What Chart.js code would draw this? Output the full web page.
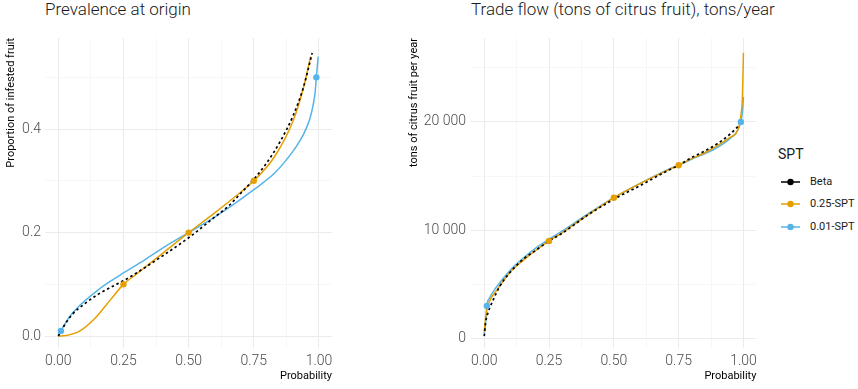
<!DOCTYPE html>
<html><head><meta charset="utf-8">
<script src="https://cdn.jsdelivr.net/npm/chart.js@4/dist/chart.umd.min.js"></script>
<style>
html,body{margin:0;padding:0;background:#fff;}
body{width:858px;height:389px;position:relative;overflow:hidden;font-family:Roboto,sans-serif;}
.title{position:absolute;top:1px;font-size:17px;line-height:17px;font-weight:300;color:#1a1a1a;white-space:nowrap;}
canvas{position:absolute;top:0;}
.lg-title{position:absolute;left:778px;top:147px;font-size:14px;line-height:14px;color:#1a1a1a;font-weight:400;}
.lg-row{position:absolute;left:780px;height:14px;width:80px;}
.lg-row svg{position:absolute;left:0;top:0;}
.lg-row span{position:absolute;left:30px;top:0;font-family:Roboto,sans-serif;font-size:11px;line-height:14px;color:#1a1a1a;white-space:nowrap;}
</style></head><body>
<div class="title" style="left:45px">Prevalence at origin</div>
<div class="title" style="left:471px">Trade flow (tons of citrus fruit), tons/year</div>
<canvas id="c1" width="340" height="389" style="left:0"></canvas>
<canvas id="c2" width="362" height="389" style="left:400px"></canvas>
<div class="lg-title">SPT</div>
<div id="legend"></div>
<script>
// ---------- DATA ----------
const seriesNames = ["Beta", "0.25-SPT", "0.01-SPT"];
const seriesColors = ["#000000", "#E69F00", "#56B4E9"];

// Left panel: Prevalence at origin
const betaProbL = [0, 0.02, 0.05, 0.1, 0.15, 0.2, 0.25, 0.3, 0.4, 0.5, 0.6, 0.65, 0.7, 0.75, 0.8, 0.85, 0.9, 0.94, 0.974];
const betaValL  = [0, 0.018, 0.04, 0.062, 0.08, 0.094, 0.107, 0.122, 0.155, 0.19, 0.23, 0.25, 0.276, 0.303, 0.335, 0.375, 0.425, 0.48, 0.547];
const spt25ProbL = [0, 0.03, 0.08, 0.14, 0.2, 0.25, 0.3, 0.4, 0.5, 0.6, 0.66, 0.75, 0.83, 0.9, 0.94, 0.968];
const spt25ValL  = [0, 0.001, 0.009, 0.034, 0.07, 0.1, 0.12, 0.16, 0.2, 0.238, 0.262, 0.3, 0.347, 0.415, 0.479, 0.54];
const spt01ProbL = [0, 0.01, 0.04, 0.08, 0.15, 0.2, 0.25, 0.33, 0.4, 0.5, 0.6, 0.66, 0.75, 0.83, 0.9, 0.93, 0.95, 0.965, 0.975, 0.985, 0.99, 0.997];
const spt01ValL  = [0.002, 0.01, 0.035, 0.058, 0.088, 0.106, 0.122, 0.147, 0.17, 0.2, 0.23, 0.25, 0.283, 0.315, 0.357, 0.38, 0.4, 0.42, 0.44, 0.47, 0.5, 0.54];
const spt25PtsProbL = [0.25, 0.5, 0.75];
const spt25PtsValL  = [0.1, 0.2, 0.3];
const spt01PtsProbL = [0.01, 0.99];
const spt01PtsValL  = [0.01, 0.5];

// Right panel: Trade flow
const betaProbR = [0, 0.005, 0.015, 0.03, 0.06, 0.1, 0.15, 0.2, 0.25, 0.3, 0.4, 0.5, 0.6, 0.7, 0.75, 0.8, 0.85, 0.9, 0.95, 0.984];
const betaValR  = [200, 1400, 2400, 3300, 4800, 6100, 7300, 8150, 9000, 9700, 11400, 12850, 14100, 15400, 16000, 16700, 17300, 18000, 18900, 19700];
const spt25ProbR = [0, 0.005, 0.01, 0.02, 0.05, 0.1, 0.15, 0.2, 0.25, 0.3, 0.4, 0.5, 0.6, 0.7, 0.75, 0.8, 0.85, 0.9, 0.95, 0.97, 0.984, 0.99, 0.996, 1.0];
const spt25ValR  = [600, 1800, 2600, 3400, 4500, 6100, 7200, 8150, 9000, 9750, 11400, 13000, 14300, 15450, 16000, 16600, 17150, 17800, 18600, 18900, 19700, 20600, 22300, 26400];
const spt01ProbR = [0, 0.004, 0.01, 0.02, 0.046, 0.1, 0.15, 0.2, 0.25, 0.3, 0.4, 0.5, 0.6, 0.7, 0.75, 0.8, 0.85, 0.9, 0.95, 0.98, 0.99, 0.996, 1.0];
const spt01ValR  = [400, 1000, 3000, 3700, 4700, 6300, 7400, 8350, 9150, 9900, 11500, 13000, 14300, 15500, 16000, 16550, 17050, 17650, 18500, 19300, 20000, 20900, 22300];
const spt25PtsProbR = [0.25, 0.5, 0.75];
const spt25PtsValR  = [9000, 13000, 16000];
const spt01PtsProbR = [0.01, 0.99];
const spt01PtsValR  = [3000, 20000];

// Ticks (empty label = minor gridline)
const xTickValues = [0, 0.125, 0.25, 0.375, 0.5, 0.625, 0.75, 0.875, 1];
const xTickLabels = ["0.00", "", "0.25", "", "0.50", "", "0.75", "", "1.00"];
const yTickValuesL = [0, 0.1, 0.2, 0.3, 0.4, 0.5];
const yTickLabelsL = ["0.0", "", "0.2", "", "0.4", ""];
const yTickValuesR = [0, 5000, 10000, 15000, 20000, 25000];
const yTickLabelsR = ["0", "", "10 000", "", "20 000", ""];

// ---------- BUILD ----------
const zip = (xs, ys) => xs.map((x, i) => ({x: x, y: ys[i]}));

function lineDs(xs, ys, idx, dashed) {
  return {
    type: 'line', data: zip(xs, ys), borderColor: seriesColors[idx], backgroundColor: seriesColors[idx],
    borderWidth: dashed ? 1.7 : 1.5, borderDash: dashed ? [2.5, 2.8] : [], pointRadius: 0,
    cubicInterpolationMode: 'monotone', fill: false, order: dashed ? 1 : 2, label: seriesNames[idx]
  };
}
function ptDs(xs, ys, idx) {
  return {
    type: 'scatter', data: zip(xs, ys), borderColor: seriesColors[idx], backgroundColor: seriesColors[idx],
    pointRadius: 3.2, pointBorderWidth: 0, showLine: false, order: 0
  };
}

function makeScale(vals, labels, min, max, isX, sizeFit, yTitle, titlePad) {
  return {
    type: 'linear', min: min, max: max, border: {display: false},
    afterBuildTicks: s => { s.ticks = vals.map(v => ({value: v})); },
    afterFit: s => { if (isX) s.height = sizeFit; else s.width = sizeFit; },
    grid: {
      drawTicks: false,
      color: c => (labels[c.index] === '' ? '#f3f3f3' : '#ebebeb'),
      lineWidth: c => (labels[c.index] === '' ? 0.7 : 1)
    },
    ticks: {
      autoSkip: false, maxRotation: 0, padding: isX ? 5 : (titlePad > 6 ? 5 : 4),
      color: '#4d4d4d', font: {family: 'Roboto', size: 14, weight: 300},
      callback: (v, i) => labels[i]
    },
    title: {
      display: true, text: isX ? 'Probability' : yTitle, align: 'end', color: '#000',
      font: {family: 'Roboto, sans-serif', size: 11},
      padding: isX ? {top: 0, bottom: 6} : {top: titlePad, bottom: 0}
    }
  };
}

function makeChart(id, datasets, yVals, yLabels, yMin, yMax, yWidth, yTitle, titlePad, padRight) {
  return new Chart(document.getElementById(id), {
    type: 'line',
    data: {datasets: datasets},
    options: {
      responsive: false, animation: false, devicePixelRatio: 1,
      layout: {padding: {top: 38, right: padRight, left: 0, bottom: 0}},
      plugins: {legend: {display: false}, tooltip: {enabled: false}},
      scales: {
        x: makeScale(xTickValues, xTickLabels, -0.051, 1.05, true, 41),
        y: makeScale(yVals, yLabels, yMin, yMax, false, yWidth, yTitle, titlePad)
      }
    }
  });
}

makeChart('c1', [
  lineDs(betaProbL, betaValL, 0, true),
  lineDs(spt25ProbL, spt25ValL, 1, false),
  lineDs(spt01ProbL, spt01ValL, 2, false),
  ptDs(spt25PtsProbL, spt25PtsValL, 1),
  ptDs(spt01PtsProbL, spt01PtsValL, 2)
], yTickValuesL, yTickLabelsL, -0.023, 0.576, 45, 'Proportion of infested fruit', 5, 8);

makeChart('c2', [
  lineDs(betaProbR, betaValR, 0, true),
  lineDs(spt25ProbR, spt25ValR, 1, false),
  lineDs(spt01ProbR, spt01ValR, 2, false),
  ptDs(spt25PtsProbR, spt25PtsValR, 1),
  ptDs(spt01PtsProbR, spt01PtsValR, 2)
], yTickValuesR, yTickLabelsR, -896, 27755, 71, 'tons of citrus fruit per year', 8, 5);

// Legend
const legendTops = [175, 197, 220];
const lg = document.getElementById('legend');
seriesNames.forEach((name, i) => {
  const row = document.createElement('div');
  row.className = 'lg-row';
  row.style.top = legendTops[i] + 'px';
  row.innerHTML = '<svg width="22" height="14"><line x1="1" y1="7" x2="20" y2="7" stroke="' + seriesColors[i] +
    '" stroke-width="1.5"/><circle cx="10.5" cy="7" r="3.2" fill="' + seriesColors[i] + '"/></svg><span>' + name + '</span>';
  lg.appendChild(row);
});
</script>
</body></html>
